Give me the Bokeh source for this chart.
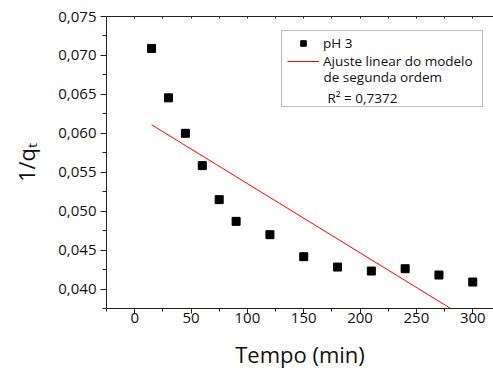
import math
from bokeh.plotting import figure
from bokeh.models import (FixedTicker, LinearAxis, Label, BoxAnnotation, Range1d)
from bokeh.embed import file_html
from bokeh.resources import INLINE

# ---- data ----
tempo = [15, 30, 45, 60, 75, 90, 120, 150, 180, 210, 240, 270, 300]
inv_qt = [0.0709, 0.06455, 0.0600, 0.05585, 0.05148, 0.04869, 0.04698,
          0.04415, 0.04282, 0.04231, 0.04261, 0.0418, 0.0409]
fit_x = [15, 300]
fit_y = [0.0611, 0.03576]

x_ticks = [0, 50, 100, 150, 200, 250, 300]
x_minor = [-25, 25, 75, 125, 175, 225, 275, 325]
y_ticks = [0.040, 0.045, 0.050, 0.055, 0.060, 0.065, 0.070, 0.075]
y_tick_labels = ["0,040", "0,045", "0,050", "0,055", "0,060", "0,065", "0,070", "0,075"]
y_minor = [0.0375, 0.0425, 0.0475, 0.0525, 0.0575, 0.0625, 0.0675, 0.0725]

series_label = "pH 3"
fit_label = "Ajuste linear do modelo"
fit_label_2 = "de segunda ordem"
r2_label = "R\u00b2 = 0,7372"
x_title = "Tempo (min)"
y_title = "1/q\u209c"

# ---- layout ----
X_START, X_END = -25, 318.4
Y_START, Y_END = 0.0375, 0.075
W, H = 493, 372
BL, BR, BT, BB = 106, 0, 16, 64
FL, FT = BL, BT                  # frame left/top in page pixels
FW, FH = W - BL - BR, H - BT - BB

FONT = "Open Sans"

p = figure(width=W, height=H, output_backend="svg", toolbar_location=None,
           x_range=Range1d(X_START, X_END), y_range=Range1d(Y_START, Y_END),
           min_border_left=BL, min_border_right=BR, min_border_top=BT,
           min_border_bottom=BB, x_axis_location=None, y_axis_location=None)
p.outline_line_color = None
p.xgrid.visible = False
p.ygrid.visible = False
p.background_fill_color = "white"
p.border_fill_color = "white"

AX = "#222222"
TXT = "#111111"

xaxis = LinearAxis(ticker=FixedTicker(ticks=x_ticks, minor_ticks=x_minor))
xaxis.axis_line_color = AX
xaxis.major_tick_line_color = AX
xaxis.minor_tick_line_color = AX
xaxis.major_tick_out = 5
xaxis.major_tick_in = 0
xaxis.minor_tick_out = 3
xaxis.minor_tick_in = 0
xaxis.major_label_text_font = FONT
xaxis.major_label_text_font_size = "15px"
xaxis.major_label_text_color = TXT
xaxis.major_label_standoff = -1
xaxis.axis_label = x_title
xaxis.axis_label_text_font = FONT
xaxis.axis_label_text_font_size = "22px"
xaxis.axis_label_text_font_style = "normal"
xaxis.axis_label_text_color = TXT
xaxis.axis_label_standoff = 13
p.add_layout(xaxis, "below")

yaxis = LinearAxis(ticker=FixedTicker(ticks=y_ticks, minor_ticks=y_minor))
yaxis.major_label_overrides = {t: s for t, s in zip(y_ticks, y_tick_labels)}
yaxis.axis_line_color = AX
yaxis.major_tick_line_color = AX
yaxis.minor_tick_line_color = AX
yaxis.major_tick_out = 6
yaxis.major_tick_in = 0
yaxis.minor_tick_out = 4
yaxis.minor_tick_in = 0
yaxis.major_label_text_font = FONT
yaxis.major_label_text_font_size = "15px"
yaxis.major_label_text_color = TXT
yaxis.major_label_standoff = 4
yaxis.axis_label = y_title
yaxis.axis_label_text_font = FONT
yaxis.axis_label_text_font_size = "22px"
yaxis.axis_label_text_font_style = "normal"
yaxis.axis_label_text_color = TXT
yaxis.axis_label_standoff = 14
p.add_layout(yaxis, "left")

top = LinearAxis(ticker=FixedTicker(ticks=[], minor_ticks=x_ticks + x_minor))
top.axis_line_color = AX
top.major_tick_line_color = None
top.minor_tick_line_color = AX
top.minor_tick_out = 0
top.minor_tick_in = 2
top.major_label_text_font_size = "0px"
top.major_label_standoff = 0
p.add_layout(top, "above")

p.scatter(tempo, inv_qt, marker="square", size=8, color="black",
          legend_label=series_label)
p.line(fit_x, fit_y, line_color="#ff0000", line_width=1, legend_label=fit_label)

leg = p.legend[0]
leg.location = (287 - FL, FH - 54.2)
leg.label_text_font = FONT
leg.label_text_font_size = "13.5px"
leg.label_text_color = TXT
leg.glyph_width = 32
leg.glyph_height = 14
leg.label_height = 14
leg.spacing = 0
leg.padding = 0
leg.margin = 0
leg.label_standoff = 4
leg.background_fill_alpha = 0
leg.border_line_alpha = 0


def xd(X):
    return X_START + (X - FL) / FW * (X_END - X_START)


def yd(Y):
    return Y_END - (Y - FT) / FH * (Y_END - Y_START)


def plabel(text, X, Y, **kw):
    lab = Label(x=X_START, y=Y_END, x_units="data", y_units="data",
                x_offset=X - FL, y_offset=-(Y - FT), text=text,
                text_font=FONT, text_color=TXT, **kw)
    p.add_layout(lab)
    return lab


p.add_layout(BoxAnnotation(left=xd(281), right=xd(482), top=yd(30), bottom=yd(106),
                           fill_alpha=0, line_color=AX, line_width=1))

plabel(fit_label_2, 323, 76, text_font_size="13.5px", text_baseline="middle")
plabel(r2_label, 327, 97, text_font_size="13.5px", text_baseline="middle")

open("out.html", "w").write(file_html(p, INLINE))
